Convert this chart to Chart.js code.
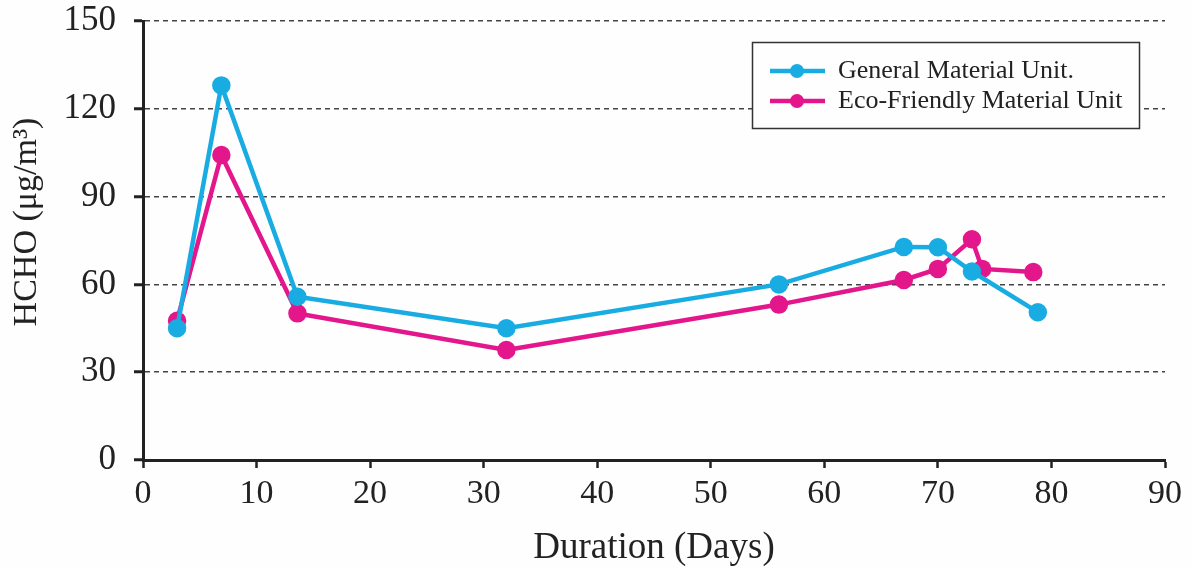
<!DOCTYPE html>
<html>
<head>
<meta charset="utf-8">
<script src="https://cdn.jsdelivr.net/npm/chart.js@4.4.1/dist/chart.umd.min.js"></script>
<style>
  html, body { margin: 0; padding: 0; background: #fefefe; }
  #wrap { width: 1192px; height: 567px; position: relative; }
</style>
</head>
<body>
<div id="wrap"><canvas id="hcho"></canvas></div>
<script>
/* data */
const genDays = [3, 6.9, 13.6, 32, 56, 67, 70, 73, 78.8];
const genHCHO = [45, 128, 55.8, 45, 60, 72.8, 72.7, 64.4, 50.5];
const ecoDays = [3, 6.9, 13.6, 32, 56, 67, 70, 73, 73.9, 78.4];
const ecoHCHO = [47.6, 104.2, 50.1, 37.6, 53.1, 61.5, 65.3, 75.4, 65.3, 64.2];
const seriesNames = ['General Material Unit.', 'Eco-Friendly Material Unit'];
const xTickVals = [0, 10, 20, 30, 40, 50, 60, 70, 80, 90];
const yTickVals = [0, 30, 60, 90, 120, 150];
const yTitle = 'HCHO (μg/m³)';

const BLUE = '#19ace2';
const PINK = '#e3168b';
const FONT = "'Liberation Serif', 'Times New Roman', serif";

const pts = (xs, ys) => xs.map((x, i) => ({ x, y: ys[i] }));

// framed legend top right + rotated y title (sits a bit above centre in the original)
const extras = {
  id: 'extras',
  afterDraw(chart) {
    const ctx = chart.ctx;
    ctx.save();
    ctx.fillStyle = '#fefefe';
    ctx.fillRect(752.5, 42.5, 387, 86);
    ctx.strokeStyle = '#333';
    ctx.lineWidth = 1.5;
    ctx.strokeRect(752.5, 42.5, 387, 86);
    const rows = [[BLUE, 71], [PINK, 101]];
    rows.forEach(([col, y], i) => {
      ctx.strokeStyle = col;
      ctx.lineWidth = 4.5;
      ctx.beginPath(); ctx.moveTo(770, y); ctx.lineTo(825, y); ctx.stroke();
      ctx.fillStyle = col;
      ctx.beginPath(); ctx.arc(797, y, 7, 0, Math.PI * 2); ctx.fill();
      ctx.fillStyle = '#222';
      ctx.font = `26px ${FONT}`;
      ctx.textBaseline = 'middle';
      ctx.fillText(seriesNames[i], 838, y);
    });

    ctx.translate(27, 222);
    ctx.rotate(-Math.PI / 2);
    ctx.font = `34px ${FONT}`;
    ctx.textAlign = 'center';
    ctx.textBaseline = 'middle';
    ctx.fillStyle = '#222';
    ctx.fillText(yTitle, 0, 0);
    ctx.restore();
  }
};

new Chart(document.getElementById('hcho'), {
  type: 'line',
  data: {
    datasets: [
      { label: seriesNames[0], data: pts(genDays, genHCHO), borderColor: BLUE, backgroundColor: BLUE,
        borderWidth: 4.5, pointRadius: 7, pointHoverRadius: 7, tension: 0 },
      { label: seriesNames[1], data: pts(ecoDays, ecoHCHO), borderColor: PINK, backgroundColor: PINK,
        borderWidth: 4.5, pointRadius: 7, pointHoverRadius: 7, tension: 0 }
    ]
  },
  options: {
    responsive: true,
    maintainAspectRatio: false,
    animation: false,
    layout: { padding: { top: 21, right: 27, left: 0, bottom: 0 } },
    plugins: { legend: { display: false }, tooltip: { enabled: false } },
    scales: {
      x: {
        type: 'linear', min: 0, max: 90,
        afterBuildTicks: s => { s.ticks = xTickVals.map(v => ({ value: v })); },
        afterFit: s => { s.height = 107; },
        ticks: { color: '#222', font: { family: FONT, size: 34 }, padding: 6, maxRotation: 0 },
        grid: { drawOnChartArea: false, drawTicks: true, tickLength: 8, tickColor: '#222', tickWidth: 2.5 },
        border: { color: '#222', width: 3 },
        title: { display: true, text: 'Duration (Days)', color: '#222', font: { family: FONT, size: 37, lineHeight: 1.0 }, padding: { top: 15, bottom: 0 } }
      },
      y: {
        min: 0, max: 150,
        afterBuildTicks: s => { s.ticks = yTickVals.map(v => ({ value: v })); },
        afterFit: s => { s.width = 143; s.paddingTop = 0; s.paddingBottom = 0; },
        ticks: { color: '#222', font: { family: FONT, size: 35 }, padding: 18 },
        grid: {
          color: c => (c.tick && c.tick.value === 0) ? 'rgba(0,0,0,0)' : '#444',
          lineWidth: 1.5, tickLength: 9, tickColor: '#222', tickWidth: 3, tickBorderDash: []
        },
        border: { color: '#222', width: 3, dash: [5, 4] }
      }
    }
  },
  plugins: [extras]
});
</script>
</body>
</html>
